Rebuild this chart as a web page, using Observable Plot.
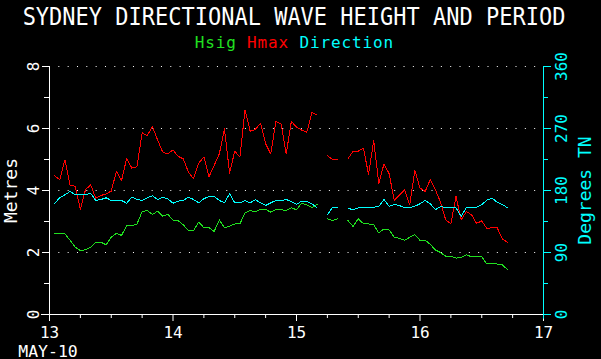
<!DOCTYPE html>
<html><head><meta charset="utf-8">
<script src="https://cdn.jsdelivr.net/npm/d3@7"></script>
<script src="https://cdn.jsdelivr.net/npm/@observablehq/plot@0.6"></script>
<style>
html,body{margin:0;padding:0;background:#000;}
#wrap{width:601px;height:359px;overflow:hidden;background:#000;}
#wrap svg{display:block;}
</style></head><body><div id="wrap"></div>
<script>
const titleText = "SYDNEY DIRECTIONAL WAVE HEIGHT AND PERIOD";
const legendItems = ["Hsig", "Hmax", "Direction"];
const legendColors = ["#20e020", "#ff0000", "#00ffff"];
const leftLabel = "Metres";
const rightLabel = "Degrees TN";
const dateLabel = "MAY-10";
const startDay = 13;
const dayTicks = [13, 14, 15, 16, 17];
const metreTicks = [0, 2, 4, 6, 8];
const metreMinor = [1, 3, 5, 7];
const degreeTicks = [0, 90, 180, 270, 360];
const degreeMinor = [45, 135, 225, 315];
const degPerMetre = 45;
// hourly samples, hour 1 .. 89 after 13 May 00:00
const hours = d3.range(1, 90);
const hsig = [2.60,2.60,2.60,2.39,2.17,2.06,2.09,2.17,2.33,2.33,
2.25,2.49,2.62,2.55,2.87,2.87,2.92,3.32,3.35,3.23,
3.33,3.17,3.23,3.05,3.03,2.89,2.71,2.71,2.98,2.80,
2.80,2.68,3.05,2.80,2.85,2.92,2.92,3.28,3.35,3.32,
3.39,3.39,3.30,3.38,3.38,3.35,3.44,3.38,3.59,3.53,
3.45,3.55,null,3.09,3.03,3.09,null,3.03,2.84,3.09,
2.93,2.92,2.90,2.63,2.76,2.73,2.49,2.46,2.39,2.49,
2.58,2.39,2.40,2.26,2.08,2.00,1.88,1.88,1.82,1.84,
1.93,1.86,1.86,1.86,1.63,1.63,1.63,1.60,1.45];
const hmax = [4.47,4.35,4.99,4.16,4.14,3.39,4.03,4.18,3.75,3.84,
3.89,3.98,4.62,4.32,5.04,4.72,4.77,5.86,5.77,6.06,
5.63,5.24,5.18,5.31,5.10,5.02,4.59,4.38,4.88,5.08,
4.45,4.81,5.18,5.99,4.56,5.27,5.08,6.60,5.91,5.97,
6.17,5.51,5.18,6.23,6.15,5.18,6.23,6.04,5.95,5.88,
6.51,6.44,null,5.13,5.00,5.00,null,5.02,5.27,5.27,
5.37,4.52,5.61,4.22,4.86,4.54,3.68,3.85,4.02,3.54,
4.65,4.08,3.97,4.35,4.02,3.62,3.05,2.93,3.81,3.05,
3.32,3.22,2.94,3.02,2.77,2.80,2.80,2.44,2.33];
const direction = [161.6,169.4,173.8,178.5,173.8,173.8,173.8,176.1,165.5,166.9,
169.4,165.5,165.5,165.5,161.6,170.3,166.9,165.5,169.4,172.3,
166.9,170.3,168.0,161.6,164.5,165.5,170.3,166.9,162.1,168.0,
171.3,171.7,165.5,162.1,175.2,162.1,162.1,165.5,162.1,166.5,
162.1,158.2,162.1,165.5,165.5,166.9,164.0,159.7,164.5,164.0,
160.7,154.9,null,144.7,155.8,154.9,null,154.3,152.0,154.9,
155.8,155.8,155.8,156.8,166.9,156.8,159.7,158.2,154.9,154.9,
157.2,160.7,165.5,160.7,152.0,156.8,154.9,154.9,154.9,142.5,
154.9,154.9,155.8,159.5,166.0,169.0,163.0,159.7,154.9];

const rows = hours.map((h, i) => ({
  t: startDay + h / 24,
  hsig: hsig[i] ?? NaN,
  hmax: hmax[i] ?? NaN,
  dir: direction[i] == null ? NaN : direction[i] / degPerMetre
}));

const FONT = "'DejaVu Sans Mono', monospace";
const wrap = d3.select("#wrap");

// header (title + legend)
const head = wrap.append("svg").attr("width", 601).attr("height", 54);
head.append("text")
  .attr("transform", "translate(294,24.5) scale(1,1.12)")
  .attr("text-anchor", "middle")
  .attr("font-family", FONT).attr("font-size", 22)
  .attr("fill", "#fff")
  .text(titleText);
const leg = head.append("text")
  .attr("x", 294.3).attr("y", 47.7)
  .attr("text-anchor", "middle")
  .attr("font-family", FONT).attr("font-size", 16)
  .attr("letter-spacing", 0.85)
  .attr("xml:space", "preserve");
legendItems.forEach((s, i) => {
  leg.append("tspan").attr("fill", legendColors[i]).text((i ? " " : "") + s);
});

const minorDays = d3.range(13, 17, 0.25).filter(d => d % 1 !== 0);
const cyan = legendColors[2];

const chart = Plot.plot({
  width: 601, height: 305,
  marginTop: 12, marginBottom: 45, marginLeft: 49, marginRight: 58,
  style: {background: "#000", color: "#fff", fontFamily: FONT, fontSize: "16px", overflow: "visible"},
  x: {domain: [13, 17], label: null},
  y: {domain: [0, 8], label: null},
  marks: [
    Plot.gridY(metreTicks.filter(d => d > 0), {stroke: "#fff", strokeOpacity: 1, strokeDasharray: "1,8.33"}),
    Plot.axisX(dayTicks, {tickSize: 7, tickPadding: 5, color: "#fff", fontSize: 16, tickFormat: d => String(d)}),
    Plot.axisX(minorDays, {tickSize: 4, text: null, color: "#fff"}),
    Plot.axisY(metreTicks, {anchor: "left", tickSize: 7, tickRotate: -90, tickPadding: 4, color: "#fff", fontSize: 16, tickFormat: d => String(d)}),
    Plot.axisY(metreMinor, {anchor: "left", tickSize: 5, text: null, color: "#fff"}),
    Plot.axisY(degreeTicks.map(d => d / degPerMetre), {anchor: "right", tickSize: 7, tickRotate: -90, lineAnchor: "top", tickPadding: 5, color: cyan, fontSize: 16, tickFormat: d => String(Math.round(d * degPerMetre))}),
    Plot.axisY(degreeMinor.map(d => d / degPerMetre), {anchor: "right", tickSize: 4, text: null, color: cyan}),
    Plot.ruleX([13], {y1: -0.2, y2: 8, stroke: "#fff"}),
    Plot.ruleX([17], {y1: -0.15, y2: 8, stroke: cyan}),
    Plot.ruleY([0], {x1: 12.935, x2: 17, stroke: "#fff"}),
    Plot.line(rows, {x: "t", y: "hsig", stroke: legendColors[0], strokeWidth: 1, shapeRendering: "crispEdges"}),
    Plot.line(rows, {x: "t", y: "hmax", stroke: legendColors[1], strokeWidth: 1, shapeRendering: "crispEdges"}),
    Plot.line(rows, {x: "t", y: "dir", stroke: legendColors[2], strokeWidth: 1, shapeRendering: "crispEdges"}),
    Plot.text([leftLabel], {frameAnchor: "left", textAnchor: "middle", rotate: -90, lineAnchor: "bottom", dx: -33, fill: "#fff", fontSize: 18}),
    Plot.text([rightLabel], {frameAnchor: "right", textAnchor: "middle", rotate: -90, lineAnchor: "bottom", dx: 47, fill: cyan, fontSize: 18}),
    Plot.text([dateLabel], {x: [startDay], frameAnchor: "bottom", lineAnchor: "bottom", dx: -1.5, dy: 42, fill: "#fff", fontSize: 16.5, letterSpacing: 0.4})
  ]
});
wrap.node().appendChild(chart);
</script>
</body></html>
